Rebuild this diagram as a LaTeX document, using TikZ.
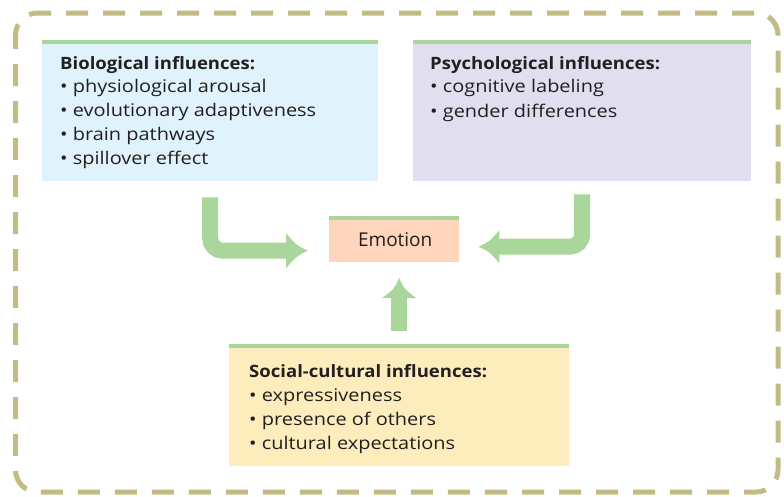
\documentclass[tikz,border=0pt]{standalone}
\usepackage{fontspec}
\setmainfont{Open Sans}
\newfontfamily\regf{Open Sans}[FakeStretch=1.14]
\newfontfamily\headf{Open Sans}[FakeStretch=1.09]
\usetikzlibrary{calc}
\definecolor{framec}{HTML}{C3BB86}
\definecolor{greenc}{HTML}{A9D69A}
\definecolor{biofill}{HTML}{E0F2FC}
\definecolor{psyfill}{HTML}{E1DEF0}
\definecolor{emofill}{HTML}{FFD5BB}
\definecolor{socfill}{HTML}{FDEDBD}
\definecolor{ink}{HTML}{231F20}
\begin{document}
\begin{tikzpicture}[x=1pt,y=-1pt,
  panel/.style={draw=none, inner sep=0pt, anchor=north west},
  txt/.style={anchor=base west, inner sep=0pt, text=ink, font=\regf\fontsize{17.5}{20}\selectfont},
  headtxt/.style={txt, font=\headf\bfseries\fontsize{17}{20}\selectfont},
  shaft/.style={draw=greenc, line width=16pt},
  arrhead/.style={fill=greenc}
]
\useasboundingbox (0,0) rectangle (784,496);
% frame
\draw[framec, line width=5pt, dash pattern=on 22pt off 15pt, dash phase=8pt, rounded corners=22pt]
  (15.5,13) rectangle (778,492);

% panels
\node[panel, fill=biofill, minimum width=336pt, minimum height=137pt] (bio) at (42,44) {};
\node[panel, fill=psyfill, minimum width=338pt, minimum height=137pt] (psych) at (413,44) {};
\node[panel, fill=emofill, minimum width=130pt, minimum height=42pt] (emotion) at (329,220) {};
\node[panel, fill=socfill, minimum width=340pt, minimum height=118pt] (social) at (229,348) {};
\foreach \b in {bio,psych,emotion,social}
  \fill[greenc] (\b.north west) rectangle ($(\b.north east)+(0,-4.5)$);

% texts
\node[headtxt] (bioh) at (60,69) {Biological influences:};
\node[txt] (bio1) at (60,92) {• physiological arousal};
\node[txt] (bio2) at (60,116) {• evolutionary adaptiveness};
\node[txt] (bio3) at (60,140) {• brain pathways};
\node[txt] (bio4) at (60,164) {• spillover effect};

\node[headtxt] (psyh) at (430,69) {Psychological influences:};
\node[txt] (psy1) at (430,92) {• cognitive labeling};
\node[txt] (psy2) at (430,117) {• gender differences};

\node[headtxt] (soch) at (249,377) {Social-cultural influences:};
\node[txt] (soc1) at (249,401) {• expressiveness};
\node[txt] (soc2) at (249,425) {• presence of others};
\node[txt] (soc3) at (249,449) {• cultural expectations};

\node[inner sep=0pt, text=ink, font=\fontsize{19}{20}\selectfont] (emotxt) at ($(emotion.center)+(1,-2)$) {Emotion};

% arrows
\coordinate (bioout) at ($(bio.south)+(0,16)$);
\coordinate (lefttip) at ($(emotion.west)+(-21,9.5)$);
\draw[shaft, rounded corners=12.5pt] (bioout) |- ($(lefttip)+(-19,0)$);
\fill[arrhead, shift={(lefttip)}] (0,0) .. controls (-11,-5) .. (-22,-17.5) -- (-22,17.5) .. controls (-11,5) .. (0,0) -- cycle;

\coordinate (psyout) at ($(psych.south)+(0,13)$);
\coordinate (righttip) at ($(emotion.east)+(19,5.5)$);
\draw[shaft, rounded corners=12.5pt] (psyout) |- ($(righttip)+(18,0)$);
\fill[arrhead, shift={(righttip)}, rotate=180] (0,0) .. controls (-11,-5) .. (-21,-16.5) -- (-21,16.5) .. controls (-11,5) .. (0,0) -- cycle;

\coordinate (socout) at ($(social.north)+(0,-17)$);
\coordinate (uptip) at ($(social.north)+(0,-70)$);
\draw[shaft] (socout) -- ($(uptip)+(0,19)$);
\fill[arrhead, shift={(uptip)}, rotate=90] (0,0) .. controls (-11,-5) .. (-20,-17) -- (-20,17) .. controls (-11,5) .. (0,0) -- cycle;
\end{tikzpicture}
\end{document}
